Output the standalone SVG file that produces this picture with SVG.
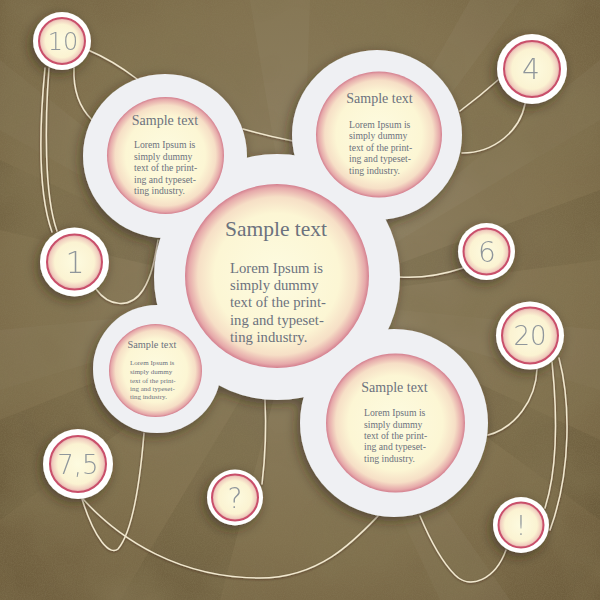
<svg xmlns="http://www.w3.org/2000/svg" width="600" height="600" viewBox="0 0 600 600">
<defs>
  <radialGradient id="bg" cx="0.5" cy="0.45" r="0.75">
    <stop offset="0" stop-color="#8f8266"/>
    <stop offset="0.6" stop-color="#82724f"/>
    <stop offset="1" stop-color="#6b5a3a"/>
  </radialGradient>
  <radialGradient id="cream" cx="0.5" cy="0.5" r="0.5">
    <stop offset="0" stop-color="#fdfbe0"/>
    <stop offset="0.68" stop-color="#fcf6d4"/>
    <stop offset="0.86" stop-color="#f6dfc6"/>
    <stop offset="0.96" stop-color="#e6a9aa"/>
    <stop offset="1" stop-color="#d4808f"/>
  </radialGradient>
  <radialGradient id="smallCream" cx="0.5" cy="0.5" r="0.5">
    <stop offset="0" stop-color="#fdfbe0"/>
    <stop offset="0.72" stop-color="#fbf3d2"/>
    <stop offset="0.9" stop-color="#f1d0c0"/>
    <stop offset="1" stop-color="#e3a0a6"/>
  </radialGradient>
  <filter id="shadow" x="-30%" y="-30%" width="160%" height="160%">
    <feDropShadow dx="-3" dy="4" stdDeviation="6" flood-color="#2a1e0e" flood-opacity="0.5"/>
  </filter>
  <filter id="lineShadow" x="-10%" y="-10%" width="120%" height="120%">
    <feDropShadow dx="0" dy="1" stdDeviation="0.8" flood-color="#2a1e0e" flood-opacity="0.45"/>
  </filter>
  <filter id="grain" x="0" y="0" width="100%" height="100%">
    <feTurbulence type="fractalNoise" baseFrequency="0.9" numOctaves="2" seed="4" result="n"/>
    <feColorMatrix in="n" type="matrix" values="0 0 0 0 0.25  0 0 0 0 0.2  0 0 0 0 0.1  0 0 0 -1.6 1.1"/>
  </filter>
  <filter id="blotch" x="0" y="0" width="100%" height="100%">
    <feTurbulence type="fractalNoise" baseFrequency="0.012" numOctaves="3" seed="9" result="n"/>
    <feColorMatrix in="n" type="matrix" values="0 0 0 0 0.22  0 0 0 0 0.17  0 0 0 0 0.08  0 0 0 -2.2 1.35"/>
  </filter>
  <style>
    .ring{fill:#eff0f3}
    .sring{fill:#ffffff}
    .core{fill:url(#cream)}
    .score{fill:url(#smallCream);stroke:#c9506b;stroke-width:2}
    .title{font-family:"Liberation Serif","DejaVu Serif",serif;fill:#6c727e;text-anchor:middle}
    .body{font-family:"Liberation Serif","DejaVu Serif",serif;fill:#6c727e}
    .num{font-family:"DejaVu Sans","Liberation Sans",sans-serif;fill:#8f969b;text-anchor:middle;font-weight:300}
    .conn{fill:none;stroke:#f2e8cf;stroke-width:1.5;stroke-linecap:round}
    .ray{fill:#b4ab92;opacity:0.1}
    .dray{fill:#3b2e18;opacity:0.12}
  </style>
</defs>

<!-- background -->
<rect width="600" height="600" fill="url(#bg)"/>
<g id="rays">
  <polygon class="ray" points="300,300 600,120 600,60"/>
  <polygon class="ray" points="300,300 470,0 520,0"/>
  <polygon class="ray" points="300,300 250,0 310,0"/>
  <polygon class="ray" points="300,300 0,60 0,130"/>
  <polygon class="ray" points="300,300 600,330 600,390"/>
  <polygon class="ray" points="300,300 0,330 0,390"/>
  <polygon class="ray" points="300,300 440,600 510,600"/>
  <polygon class="dray" points="300,300 600,190 600,260"/>
  <polygon class="dray" points="300,300 600,440 600,520"/>
  <polygon class="dray" points="300,300 120,600 220,600"/>
  <polygon class="dray" points="300,300 0,420 0,520"/>
  <polygon class="dray" points="300,300 0,160 0,230"/>
</g>
<rect width="600" height="600" filter="url(#blotch)" opacity="0.75"/>
<rect width="600" height="600" filter="url(#grain)" opacity="0.4"/>

<!-- connectors -->
<g id="connectors" filter="url(#lineShadow)">
  <path class="conn" d="M88,50 Q112,60 137,79"/>
  <path class="conn" d="M74,68 C73,92 80,108 92,120"/>
  <path class="conn" d="M45,68 C40,120 37,190 52,232"/>
  <path class="conn" d="M49,68 C45,120 44,195 57,231"/>
  <path class="conn" d="M96,289 C108,306 130,310 143,290 C152,276 155,258 158,240"/>
  <path class="conn" d="M243,129 Q268,136 293,141"/>
  <path class="conn" d="M498,80 Q480,96 460,111"/>
  <path class="conn" d="M525,104 C520,130 495,153 462,153"/>
  <path class="conn" d="M463,268 Q430,279 399,277"/>
  <path class="conn" d="M537,369 C536,400 515,428 488,435"/>
  <path class="conn" d="M552,362 C558,420 557,470 545,508"/>
  <path class="conn" d="M559,358 C570,400 572,470 550,530"/>
  <path class="conn" d="M506,550 C495,580 470,590 455,575 C440,560 428,535 420,516"/>
  <path class="conn" d="M83,499 C120,540 180,578 260,578 C320,578 355,540 378,516"/>
  <path class="conn" d="M82,499 C95,540 110,556 118,549 C134,530 141,470 144,433"/>
  <path class="conn" d="M262,484 C266,450 266,420 265,400"/>
</g>

<!-- big nodes: white discs with shadow -->
<g id="discs" filter="url(#shadow)">
  <circle class="ring" cx="165" cy="156" r="82"/>
  <circle class="ring" cx="377" cy="135" r="85"/>
  <circle class="ring" cx="157" cy="369" r="64"/>
  <circle class="ring" cx="277" cy="277" r="123"/>
  <circle class="ring" cx="394" cy="423" r="94"/>
</g>

<g id="node-topleft">
  <circle class="core" cx="165.5" cy="155.5" r="58.5"/>
  <text class="title" x="165" y="125" font-size="14">Sample text</text>
  <text class="body" font-size="9.7">
    <tspan x="134" y="148">Lorem Ipsum is</tspan>
    <tspan x="134" y="160">simply dummy</tspan>
    <tspan x="134" y="171">text of the print-</tspan>
    <tspan x="134" y="183">ing and typeset-</tspan>
    <tspan x="134" y="194">ting industry.</tspan>
  </text>
</g>

<g id="node-topright">
  <circle class="core" cx="379" cy="134.5" r="63"/>
  <text class="title" x="379.5" y="103" font-size="14">Sample text</text>
  <text class="body" font-size="9.7">
    <tspan x="349" y="128">Lorem Ipsum is</tspan>
    <tspan x="349" y="139">simply dummy</tspan>
    <tspan x="349" y="151">text of the print-</tspan>
    <tspan x="349" y="162">ing and typeset-</tspan>
    <tspan x="349" y="174">ting industry.</tspan>
  </text>
</g>

<g id="node-center">
  <circle class="core" cx="277" cy="276" r="92"/>
  <text class="title" x="276" y="236" font-size="21.5">Sample text</text>
  <text class="body" font-size="14.7">
    <tspan x="230" y="273">Lorem Ipsum is</tspan>
    <tspan x="230" y="290">simply dummy</tspan>
    <tspan x="230" y="307">text of the print-</tspan>
    <tspan x="230" y="325">ing and typeset-</tspan>
    <tspan x="230" y="342">ting industry.</tspan>
  </text>
</g>

<g id="node-bottomleft">
  <circle class="core" cx="155.5" cy="370.5" r="46.5"/>
  <text class="title" x="152" y="348" font-size="10.3">Sample text</text>
  <text class="body" font-size="7">
    <tspan x="130" y="365">Lorem Ipsum is</tspan>
    <tspan x="130" y="374">simply dummy</tspan>
    <tspan x="130" y="383">text of the print-</tspan>
    <tspan x="130" y="391">ing and typeset-</tspan>
    <tspan x="130" y="399">ting industry.</tspan>
  </text>
</g>

<g id="node-bottomright">
  <circle class="core" cx="395.5" cy="423" r="69.5"/>
  <text class="title" x="394.5" y="392" font-size="14">Sample text</text>
  <text class="body" font-size="9.7">
    <tspan x="364" y="416">Lorem Ipsum is</tspan>
    <tspan x="364" y="428">simply dummy</tspan>
    <tspan x="364" y="439">text of the print-</tspan>
    <tspan x="364" y="450">ing and typeset-</tspan>
    <tspan x="364" y="462">ting industry.</tspan>
  </text>
</g>

<!-- small number nodes -->
<g id="num-10" filter="url(#shadow)">
  <circle class="sring" cx="62" cy="41" r="29"/>
  <circle class="score" cx="62" cy="41" r="23"/>
  <text class="num" x="63" y="50" font-size="24">10</text>
</g>
<g id="num-1" filter="url(#shadow)">
  <circle class="sring" cx="74.5" cy="262" r="34.5"/>
  <circle class="score" cx="74.5" cy="262" r="27.5"/>
  <text class="num" x="75" y="273" font-size="30">1</text>
</g>
<g id="num-4" filter="url(#shadow)">
  <circle class="sring" cx="532" cy="69" r="35"/>
  <circle class="score" cx="532" cy="69" r="28"/>
  <text class="num" x="531" y="79" font-size="28">4</text>
</g>
<g id="num-6" filter="url(#shadow)">
  <circle class="sring" cx="486.5" cy="251.5" r="28.5"/>
  <circle class="score" cx="486.5" cy="251.5" r="23"/>
  <text class="num" x="487" y="262" font-size="28">6</text>
</g>
<g id="num-20" filter="url(#shadow)">
  <circle class="sring" cx="530" cy="335.5" r="34"/>
  <circle class="score" cx="530" cy="335.5" r="28"/>
  <text class="num" x="530" y="345" font-size="26">20</text>
</g>
<g id="num-excl" filter="url(#shadow)">
  <circle class="sring" cx="521" cy="525" r="28"/>
  <circle class="score" cx="521" cy="525" r="22.5"/>
  <text class="num" x="521" y="535" font-size="26">!</text>
</g>
<g id="num-75" filter="url(#shadow)">
  <circle class="sring" cx="78" cy="464" r="35"/>
  <circle class="score" cx="78" cy="464" r="28"/>
  <text class="num" x="78" y="474" font-size="26">7,5</text>
</g>
<g id="num-q" filter="url(#shadow)">
  <circle class="sring" cx="235" cy="497.5" r="28"/>
  <circle class="score" cx="235" cy="497.5" r="23"/>
  <text class="num" x="235" y="508" font-size="28">?</text>
</g>
</svg>
